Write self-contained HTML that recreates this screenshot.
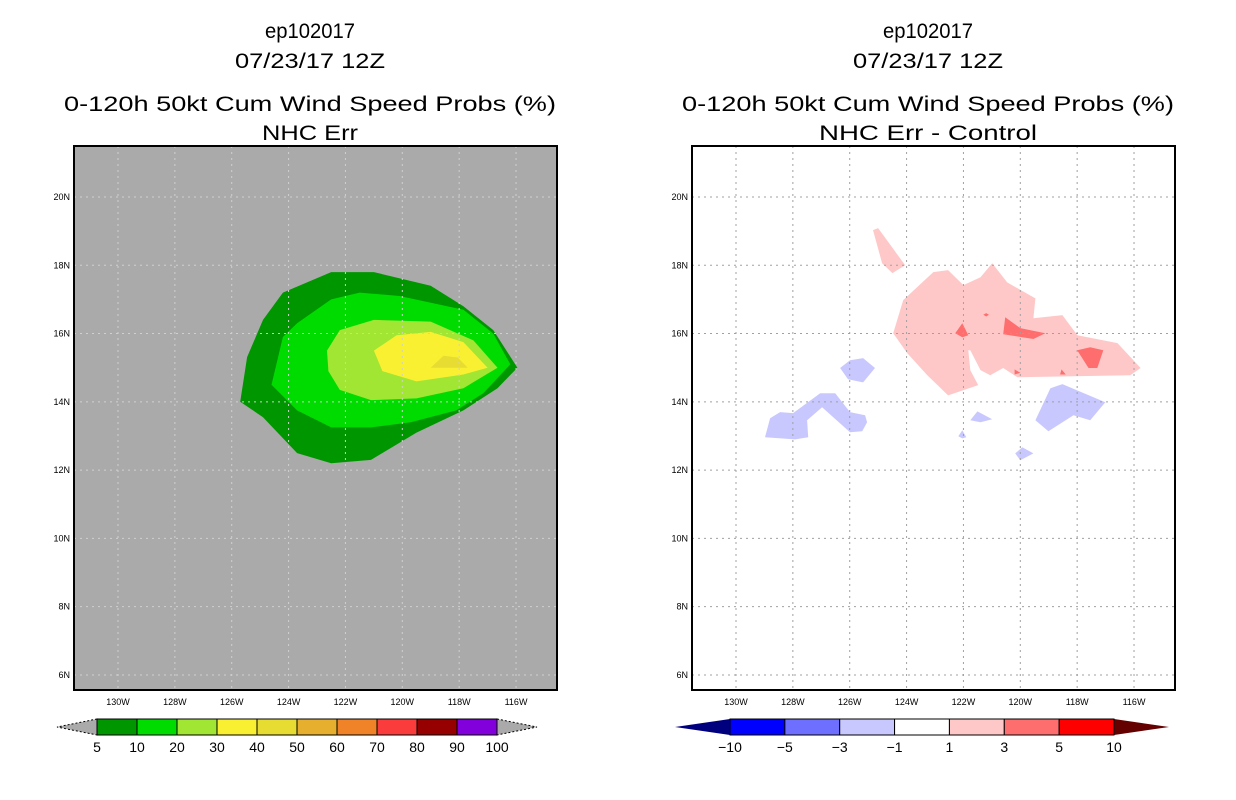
<!DOCTYPE html>
<html><head><meta charset="utf-8"><style>
html,body{margin:0;padding:0;background:#fff;}
svg{display:block;font-family:"Liberation Sans",sans-serif;}
</style></head><body>
<svg id="c" width="1236" height="800" xmlns="http://www.w3.org/2000/svg"></svg>
<script>
// ---- data ----
const lonTicks=[130,128,126,124,122,120,118,116];
const latTicks=[20,18,16,14,12,10,8,6];
const probLevels=['5','10','20','30','40','50','60','70','80','90','100'];
const probColors=['#009600','#00dc00','#a0e632','#faf032','#e6dc32','#e6af2d','#f08228','#fa3c3c','#960000','#8200dc'];
const diffLevels=['\u221210','\u22125','\u22123','\u22121','1','3','5','10'];
const diffColors=['#0000ff','#6e6eff','#c8c8ff','#ffffff','#ffc8c8','#ff6e6e','#ff0000'];
// contour polygons [lonW, latN]
const prob5=[[125.7,14.0],[125.46,15.31],[124.9,16.4],[124.2,17.2],[122.5,17.8],[121.0,17.8],[119.0,17.4],[117.85,16.8],[116.8,16.1],[115.95,15.0],[116.65,14.4],[117.85,13.75],[119.5,13.1],[121.1,12.3],[122.5,12.2],[123.7,12.5],[124.9,13.55]];
const prob10=[[124.6,14.5],[124.2,15.9],[123.7,16.3],[122.5,17.0],[121.5,17.2],[120.1,17.1],[117.85,16.7],[116.8,16.0],[116.2,15.1],[117.15,14.25],[118.1,13.75],[119.7,13.4],[121.1,13.25],[122.5,13.25],[123.7,13.75]];
const prob20=[[122.65,15.5],[122.2,16.1],[121.0,16.4],[119.0,16.35],[117.5,15.8],[116.65,15.0],[117.85,14.4],[119.5,14.1],[121.1,14.05],[122.2,14.35],[122.6,14.9]];
const prob30=[[121.0,15.5],[120.2,15.95],[119.0,16.05],[117.85,15.75],[117.0,15.0],[117.85,14.8],[119.5,14.6],[120.7,14.9]];
const prob40=[[119.0,15.0],[118.55,15.35],[118.05,15.3],[117.7,15.0]];
const diffPos1=[
 [[124.47,16.01],[124.12,16.98],[123.06,17.8],[122.54,17.86],[122.0,17.42],[121.4,17.65],[120.99,18.06],[120.46,17.5],[119.47,17.03],[119.54,16.45],[118.52,16.54],[117.99,15.95],[116.58,15.72],[115.77,14.99],[116.13,14.78],[120.1,14.72],[120.6,14.99],[121.06,14.78],[121.4,14.93],[121.76,15.51],[121.83,15.51],[121.76,14.93],[121.48,14.49],[122.54,14.19],[123.27,14.78],[123.98,15.43]],
 [[125.18,19.03],[125.0,19.09],[124.05,18.0],[124.5,17.77],[124.86,18.06]]];
const diffPos3=[
 [[122.29,16.01],[122.04,16.3],[121.83,15.95],[122.04,15.89]],
 [[120.53,16.48],[120.0,16.16],[119.12,16.01],[119.54,15.84],[120.6,15.98]],
 [[118.0,15.51],[117.54,15.6],[117.08,15.51],[117.29,14.99],[117.6,14.99]],
 [[121.3,16.55],[121.2,16.5],[121.1,16.55],[121.2,16.6]],
 [[120.2,14.95],[120.0,14.85],[120.2,14.8]],
 [[118.55,14.95],[118.4,14.8],[118.6,14.8]]];
const diffNeg1=[
 [[126.34,14.99],[125.99,15.22],[125.53,15.28],[125.11,14.99],[125.53,14.57],[126.06,14.66]],
 [[128.98,12.96],[128.8,13.52],[128.45,13.7],[127.99,13.67],[127.04,14.25],[126.51,14.25],[125.99,13.7],[125.46,13.61],[125.39,13.4],[125.56,13.14],[125.99,13.11],[126.97,13.84],[127.5,13.46],[127.46,12.96],[127.92,12.9]],
 [[119.47,13.46],[118.94,14.4],[118.52,14.52],[117.01,13.99],[117.54,13.46],[118.13,13.61],[119.01,13.14]],
 [[121.76,13.46],[121.51,13.72],[120.99,13.49],[121.4,13.4]],
 [[122.18,12.99],[122.04,13.17],[121.9,12.96],[122.04,12.93]],
 [[120.18,12.49],[119.93,12.67],[119.54,12.49],[120.0,12.29]]];

const NS='http://www.w3.org/2000/svg';
const svg=document.getElementById('c');
function mk(tag,attrs,parent){const e=document.createElementNS(NS,tag);for(const k in attrs)e.setAttribute(k,attrs[k]);(parent||svg).appendChild(e);return e;}
function txt(s,x,y,size,anchor,len,parent){const t=mk('text',{x:x,y:y,'font-size':size,'text-anchor':anchor||'middle',fill:'#000'},parent);if(len){t.setAttribute('textLength',len);t.setAttribute('lengthAdjust','spacingAndGlyphs');}t.textContent=s;return t;}

function panel(ox,bg,gridCol,t1,t2,len2){
  const xL=ox+74,xR=ox+557,yT=146,yB=690;
  const X=lon=>ox+118+(130-lon)*28.43;
  const Y=lat=>197+(20-lat)*34.14;
  const g=mk('g',{});
  
  
  const cx=ox+310;
  let t=txt('ep102017',cx,38,21,'middle',90,g);
  
  t=txt('07/23/17 12Z',cx,68,21,'middle',150,g);
  
  t=txt(t1,cx,111,21,'middle',492,g);
  
  t=txt(t2,cx,140,21,'middle',len2,g);
  
  const bgR=mk('rect',{x:xL,y:yT,width:xR-xL,height:yB-yT,fill:bg},g);
  
  const fills=mk('g',{},g);
  const poly=(pts,col,name)=>{const p=mk('polygon',{points:pts.map(q=>X(q[0]).toFixed(1)+','+Y(q[1]).toFixed(1)).join(' '),fill:col},fills);
    };
  const grid=()=>{const gg=mk('g',{stroke:gridCol,'stroke-width':1,'stroke-dasharray':'2,4'},g);
    
    lonTicks.forEach(l=>mk('line',{x1:X(l),x2:X(l),y1:yT,y2:yB},gg));
    latTicks.forEach(l=>mk('line',{x1:xL,x2:xR,y1:Y(l),y2:Y(l)},gg));};
  return {g,fills,poly,grid,X,Y,xL,xR,yT,yB,ox};
}
function finish(P){
  const f=mk('rect',{x:P.xL,y:P.yT,width:P.xR-P.xL,height:P.yB-P.yT,fill:'none',stroke:'#000','stroke-width':2},P.g);
  
  lonTicks.forEach(l=>{const t=txt(l+'W',P.X(l),705,9,'middle',null,P.g);
    });
  latTicks.forEach(l=>{const t=txt(l+'N',P.xL-4,P.Y(l)+3,9,'end',null,P.g);
    });
}
function colorbar(x0,x1,ext,cols,labels,lcol,rcol,dashed,name){
  const g=mk('g',{});
  
  const y0=719,y1=735,w=(x1-x0)/cols.length;
  const tri=(pts,c)=>{const p=mk('polygon',{points:pts,fill:c,stroke:dashed?'#000':'none','stroke-width':1,'stroke-dasharray':dashed?'2,2':'none'},g);
    };
  tri(`${x0},${y0} ${x0-ext},${(y0+y1)/2} ${x0},${y1}`,lcol);
  tri(`${x1},${y0} ${x1+ext},${(y0+y1)/2} ${x1},${y1}`,rcol);
  cols.forEach((c,i)=>{const r=mk('rect',{x:x0+i*w,y:y0,width:w,height:y1-y0,fill:c,stroke:'#000','stroke-width':1},g);
    });
  labels.forEach((s,i)=>{const t=txt(s,x0+i*w,752,14,'middle',null,g);
    });
}
const L=panel(0,'#aaaaaa','#d0d0d0','0-120h 50kt Cum Wind Speed Probs (%)','NHC Err',96);
L.poly(prob5,probColors[0],'contour-5-10');
L.poly(prob10,probColors[1],'contour-10-20');
L.poly(prob20,probColors[2],'contour-20-30');
L.poly(prob30,probColors[3],'contour-30-40');
L.poly(prob40,probColors[4],'contour-40-50');
L.grid();finish(L);
const R=panel(618,'#ffffff','#a0a0a0','0-120h 50kt Cum Wind Speed Probs (%)','NHC Err - Control',218);
diffPos1.forEach(p=>R.poly(p,diffColors[4],'diff-contour-1-3'));
diffPos3.forEach(p=>R.poly(p,diffColors[5],'diff-contour-3-5'));
diffNeg1.forEach(p=>R.poly(p,diffColors[2],'diff-contour-neg1-neg3'));
R.grid();finish(R);
colorbar(97,497,40,probColors,probLevels,'#aaaaaa','#aaaaaa',true,'prob-colorbar');
colorbar(730,1114,55,diffColors,diffLevels,'#00007f','#640000',false,'diff-colorbar');
</script>
</body></html>
